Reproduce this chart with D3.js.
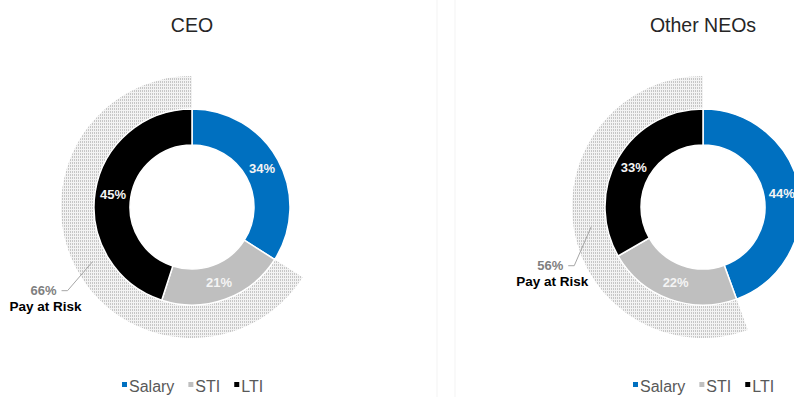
<!DOCTYPE html>
<html>
<head>
<meta charset="utf-8">
<script src="https://cdn.jsdelivr.net/npm/d3@7"></script>
<style>
  body { margin: 0; background: #fff; }
  svg { display: block; font-family: Arial, "Liberation Sans", sans-serif; }
</style>
</head>
<body>
<svg width="794" height="397"></svg>
<script>
// data
var categories = ["Salary", "STI", "LTI"];
var colors = ["#0070c0", "#bfbfbf", "#000000"];
var charts = ["CEO", "Other NEOs"];
var ceoValues = [34, 21, 45];
var neoValues = [44, 22, 33];
var payAtRisk = [66, 56];

var svg = d3.select("svg");

// layout
var centers = [{x: 192, y: 207}, {x: 703, y: 207}];
var rOuter = 98, rInner = 62, rRisk = 131;
var labelOffset = [{dx: -30, dy: 29}, {dx: -22, dy: 39}];

// faint panel separators
svg.append("line").attr("x1", 437).attr("x2", 437).attr("y1", 0).attr("y2", 397)
  .attr("stroke", "#f3f3f3");
svg.append("line").attr("x1", 455).attr("x2", 455).attr("y1", 0).attr("y2", 397)
  .attr("stroke", "#f3f3f3");

// texture for the pay-at-risk band
var defs = svg.append("defs");
var pat = defs.append("pattern")
  .attr("id", "risk")
  .attr("patternUnits", "userSpaceOnUse")
  .attr("width", 2).attr("height", 3);
pat.append("rect").attr("width", 2).attr("height", 3).attr("fill", "#f3f3f3");
pat.append("rect").attr("width", 1).attr("height", 2).attr("fill", "#c6c6c6");

var pie = d3.pie().sort(null).value(function(d) { return d; });
var arc = d3.arc().innerRadius(rInner).outerRadius(rOuter);
var riskArc = d3.arc().innerRadius(rOuter - 2).outerRadius(rRisk);
var labelArc = d3.arc().innerRadius(rInner).outerRadius(rOuter);

[ceoValues, neoValues].forEach(function(values, i) {
  var c = centers[i];
  var g = svg.append("g").attr("transform", "translate(" + c.x + "," + c.y + ")");
  var slices = pie(values);

  // pay at risk band (STI + LTI)
  var risk = {startAngle: slices[1].startAngle, endAngle: 2 * Math.PI};
  g.append("path")
    .attr("d", riskArc(risk))
    .attr("fill", "url(#risk)");

  g.selectAll("path.slice")
    .data(slices)
    .enter()
    .append("path")
    .attr("class", "slice")
    .attr("d", arc)
    .attr("fill", function(d, j) { return colors[j]; })
    .attr("stroke", "#fff")
    .attr("stroke-width", 1.5);

  g.selectAll("text.pct")
    .data(slices)
    .enter()
    .append("text")
    .attr("class", "pct")
    .attr("x", function(d) { return labelArc.centroid(d)[0]; })
    .attr("y", function(d) { return labelArc.centroid(d)[1]; })
    .attr("dy", "0.35em")
    .attr("text-anchor", "middle")
    .attr("font-size", "13px")
    .attr("font-weight", "bold")
    .attr("fill", "#f4f4f4")
    .text(function(d) { return d.value + "%"; });

  // leader line to the pay at risk label
  var p = riskArc.centroid(risk);
  var o = labelOffset[i];
  var lx = p[0] + o.dx, ly = p[1] + o.dy;
  g.append("path")
    .attr("d", "M" + (lx - 1) + "," + ly + " L" + (lx + 5) + "," + ly + " L" + p[0] + "," + p[1])
    .attr("fill", "none")
    .attr("stroke", "#a6a6a6")
    .attr("stroke-width", 1);
  g.append("text")
    .attr("x", lx - 19).attr("y", ly)
    .attr("dy", "0.35em")
    .attr("text-anchor", "middle")
    .attr("font-size", "13px")
    .attr("font-weight", "bold")
    .attr("fill", "#7f7f7f")
    .text(payAtRisk[i] + "%");
  g.append("text")
    .attr("x", lx - 17).attr("y", ly + 16)
    .attr("dy", "0.35em")
    .attr("text-anchor", "middle")
    .attr("font-size", "13.5px")
    .attr("font-weight", "bold")
    .attr("fill", "#000")
    .text("Pay at Risk");

  // title
  svg.append("text")
    .attr("x", c.x).attr("y", 32)
    .attr("text-anchor", "middle")
    .attr("font-size", "19.5px")
    .attr("fill", "#262626")
    .text(charts[i]);

  // legend
  var legend = svg.append("g")
    .attr("transform", "translate(" + (c.x - 70) + ",386)");
  var xpos = 0;
  categories.forEach(function(cat, j) {
    legend.append("rect")
      .attr("x", xpos).attr("y", -4)
      .attr("width", 5).attr("height", 5)
      .attr("fill", colors[j]);
    var t = legend.append("text")
      .attr("x", xpos + 7).attr("y", 0)
      .attr("dy", "0.35em")
      .attr("font-size", "16px")
      .attr("fill", "#595959")
      .text(cat);
    xpos += 7 + t.node().getComputedTextLength() + 14;
  });
});
</script>
</body>
</html>
